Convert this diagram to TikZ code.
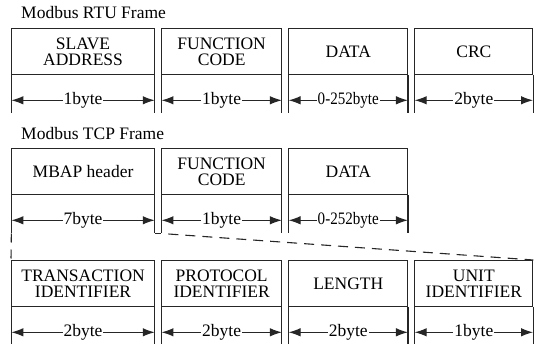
\documentclass[tikz,border=0pt]{standalone}
\usepackage{fontspec}
\setmainfont{Liberation Serif}
\usetikzlibrary{positioning,arrows.meta}
\begin{document}
\begin{tikzpicture}[x=1pt, y=-1pt,
		font=\fontsize{17.5}{16.5}\selectfont,
		every node/.style = {inner sep=0pt, align=center},
		frametitle/.style={anchor=base west},
		fieldbox/.style={draw=black!85, line width=1.1pt, minimum height=46pt, anchor=north west},
		sizebox/.style={minimum height=38pt},
		side/.style={draw=black!85, line width=1.1pt},
		lenarrow/.style={side, {Latex[length=12pt,width=8.5pt]}-{Latex[length=12pt,width=8.5pt]}},
		lbl/.style={midway, fill=white, inner xsep=1pt},
		dashlink/.style={side, dash pattern=on 9pt off 7pt},
		]
		\useasboundingbox (0,0) rectangle (537,344);
		
		% RTU frame
		\node[frametitle] (rtu) at (21,19) {Modbus RTU Frame};
		\node[fieldbox, minimum width=143pt] (slave) at (11,28) {SLAVE\\ADDRESS};
		\node[fieldbox, minimum width=120pt, right=6pt of slave] (func) {FUNCTION\\CODE};
		\node[fieldbox, minimum width=119pt, right=6pt of func] (data) {DATA};
		\node[fieldbox, minimum width=118pt, right=6pt of data] (crc) {CRC};
		\node[sizebox, minimum width=143pt, below=0pt of slave] (slaveb) {};
		\node[sizebox, minimum width=120pt, below=0pt of func] (funcb) {};
		\node[sizebox, minimum width=119pt, below=0pt of data] (datab) {};
		\node[sizebox, minimum width=118pt, below=0pt of crc] (crcb) {};
		\draw[side] (slaveb.north west) -- (slaveb.south west) (slaveb.north east) -- (slaveb.south east);
		\draw[side] (funcb.north west) -- (funcb.south west) (funcb.north east) -- (funcb.south east);
		\draw[side] (datab.north west) -- (datab.south west) (datab.north east) -- (datab.south east);
		\draw[side] (crcb.north west) -- (crcb.south west) (crcb.north east) -- (crcb.south east);
		\draw[lenarrow] ([yshift=-6pt]slaveb.west) -- ([yshift=-6pt]slaveb.east) node[lbl] {1byte};
		\draw[lenarrow] ([yshift=-6pt]funcb.west) -- ([yshift=-6pt]funcb.east) node[lbl] {1byte};
		\draw[lenarrow] ([yshift=-6pt]datab.west) -- ([yshift=-6pt]datab.east) node[lbl] {\scalebox{0.86}[1]{0-252byte}};
		\draw[lenarrow] ([yshift=-6pt]crcb.west) -- ([yshift=-6pt]crcb.east) node[lbl] {2byte};
		
		% TCP frame
		\node[frametitle] (tcp) at (21,140) {Modbus TCP Frame};
		\node[fieldbox, minimum width=143pt] (mbap) at (11,148) {MBAP header};
		\node[fieldbox, minimum width=120pt, right=6pt of mbap] (func2) {FUNCTION\\CODE};
		\node[fieldbox, minimum width=119pt, right=6pt of func2] (data2) {DATA};
		\node[sizebox, minimum width=143pt, below=0pt of mbap] (mbapb) {};
		\node[sizebox, minimum width=120pt, below=0pt of func2] (func2b) {};
		\node[sizebox, minimum width=119pt, below=0pt of data2] (data2b) {};
		\draw[side] (mbapb.north west) -- (mbapb.south west) (mbapb.north east) -- (mbapb.south east);
		\draw[side] (func2b.north west) -- (func2b.south west) (func2b.north east) -- (func2b.south east);
		\draw[side] (data2b.north west) -- (data2b.south west) (data2b.north east) -- (data2b.south east);
		\draw[lenarrow] ([yshift=-6pt]mbapb.west) -- ([yshift=-6pt]mbapb.east) node[lbl] {7byte};
		\draw[lenarrow] ([yshift=-6pt]func2b.west) -- ([yshift=-6pt]func2b.east) node[lbl] {1byte};
		\draw[lenarrow] ([yshift=-6pt]data2b.west) -- ([yshift=-6pt]data2b.east) node[lbl] {\scalebox{0.86}[1]{0-252byte}};
		\draw[side] (mbapb.south east) -- (func2b.south west);
		
		% MBAP header fields
		\node[fieldbox, minimum width=143pt] (trans) at (11,260) {TRANSACTION\\IDENTIFIER};
		\node[fieldbox, minimum width=120pt, right=6pt of trans] (proto) {PROTOCOL\\IDENTIFIER};
		\node[fieldbox, minimum width=119pt, right=6pt of proto] (len) {LENGTH};
		\node[fieldbox, minimum width=118pt, right=6pt of len] (unit) {UNIT\\IDENTIFIER};
		\node[sizebox, minimum width=143pt, below=0pt of trans] (transb) {};
		\node[sizebox, minimum width=120pt, below=0pt of proto] (protob) {};
		\node[sizebox, minimum width=119pt, below=0pt of len] (lenb) {};
		\node[sizebox, minimum width=118pt, below=0pt of unit] (unitb) {};
		\draw[side] (transb.north west) -- (transb.south west) (transb.north east) -- (transb.south east);
		\draw[side] (protob.north west) -- (protob.south west) (protob.north east) -- (protob.south east);
		\draw[side] (lenb.north west) -- (lenb.south west) (lenb.north east) -- (lenb.south east);
		\draw[side] (unitb.north west) -- (unitb.south west) (unitb.north east) -- (unitb.south east);
		\draw[lenarrow] ([yshift=-6pt]transb.west) -- ([yshift=-6pt]transb.east) node[lbl] {2byte};
		\draw[lenarrow] ([yshift=-6pt]protob.west) -- ([yshift=-6pt]protob.east) node[lbl] {2byte};
		\draw[lenarrow] ([yshift=-6pt]lenb.west) -- ([yshift=-6pt]lenb.east) node[lbl] {2byte};
		\draw[lenarrow] ([yshift=-6pt]unitb.west) -- ([yshift=-6pt]unitb.east) node[lbl] {1byte};
		
		% expansion of the MBAP header
		\draw[dashlink] (mbapb.south west) -- (trans.north west);
		\draw[dashlink, dash pattern=on 10pt off 7pt, dash phase=10pt] (func2b.south west) -- (unit.north east);
\end{tikzpicture}
\end{document}
